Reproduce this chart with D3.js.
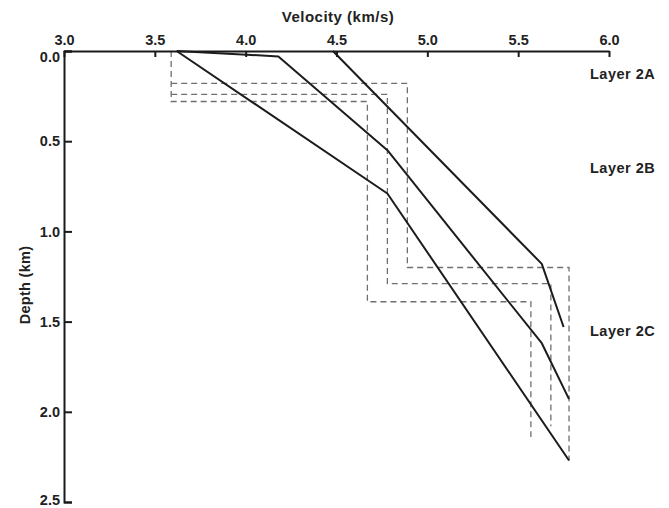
<!DOCTYPE html>
<html>
<head>
<meta charset="utf-8">
<script src="https://cdn.jsdelivr.net/npm/d3@7"></script>
<style>
  html, body { margin: 0; padding: 0; background: #ffffff; }
  svg { display: block; font-family: "Liberation Sans", Arial, sans-serif; }
  .axis text { font-size: 14.5px; font-weight: bold; fill: #222; }
  .axis path, .axis line { stroke: #1a1a1a; stroke-width: 2; }
</style>
</head>
<body>
<svg id="chart" width="669" height="508"></svg>
<script>
// Axis tick values
const velocityTicks = [3.0, 3.5, 4.0, 4.5, 5.0, 5.5, 6.0];
const depthTicks = [0.0, 0.5, 1.0, 1.5, 2.0, 2.5];

// Gradient velocity-depth profiles (solid lines)
const gradA_vel = [3.62, 4.78, 5.78];
const gradA_depth = [0.00, 0.79, 2.27];
const gradB_vel = [3.62, 4.18, 4.78, 5.63, 5.78];
const gradB_depth = [0.00, 0.03, 0.55, 1.62, 1.93];
const gradC_vel = [4.48, 5.63, 5.75];
const gradC_depth = [0.00, 1.18, 1.53];

// Layered (step) velocity models (dashed lines)
const stepA_vel = [3.59, 4.89, 4.89, 5.78, 5.78];
const stepA_depth = [0.18, 0.18, 1.20, 1.20, 2.27];
const stepB_vel = [3.59, 4.78, 4.78, 5.68, 5.68];
const stepB_depth = [0.24, 0.24, 1.29, 1.29, 2.08];
const stepC_vel = [3.59, 3.59, 4.67, 4.67, 5.57, 5.57];
const stepC_depth = [0.00, 0.28, 0.28, 1.39, 1.39, 2.14];

// Layer names and the depths where they are labelled
const layerNames = ["Layer 2A", "Layer 2B", "Layer 2C"];
const layerLabelDepths = [0.125, 0.65, 1.55];

const svg = d3.select("#chart");

const x = d3.scaleLinear().domain([3.0, 6.0]).range([64, 609]);
const y = d3.scaleLinear().domain([0.0, 2.5]).range([51, 502]);

const zip = (vs, ds) => vs.map((v, i) => [v, ds[i]]);
const line = d3.line().x(d => x(d[0])).y(d => y(d[1]));

// Dashed step models
[[stepA_vel, stepA_depth], [stepB_vel, stepB_depth], [stepC_vel, stepC_depth]].forEach(([vs, ds]) => {
  svg.append("path")
    .attr("d", line(zip(vs, ds)))
    .attr("fill", "none")
    .attr("stroke", "#6f6f6f")
    .attr("stroke-width", 1.3)
    .attr("stroke-dasharray", "6,4");
});

// Solid gradient profiles
[[gradA_vel, gradA_depth], [gradB_vel, gradB_depth], [gradC_vel, gradC_depth]].forEach(([vs, ds]) => {
  svg.append("path")
    .attr("d", line(zip(vs, ds)))
    .attr("fill", "none")
    .attr("stroke", "#1c1c1c")
    .attr("stroke-width", 2)
    .attr("stroke-linejoin", "round");
});

// Top velocity axis, ticks pointing into the plot
svg.append("g")
  .attr("class", "axis")
  .attr("transform", `translate(0,${y(0)})`)
  .call(d3.axisTop(x).tickValues(velocityTicks).tickFormat(d3.format(".1f"))
    .tickSizeInner(-6).tickSizeOuter(0).tickPadding(6));

// Left depth axis, ticks pointing into the plot
const yAxis = svg.append("g")
  .attr("class", "axis")
  .attr("transform", `translate(${x(3.0)},0)`)
  .call(d3.axisLeft(y).tickValues(depthTicks).tickFormat(d3.format(".1f"))
    .tickSizeInner(-8).tickSizeOuter(-8).tickPadding(4));
yAxis.selectAll(".tick text").filter(d => d === 0).attr("dy", "0.75em");
yAxis.selectAll(".tick text").filter(d => d === 2.5).attr("dy", "0.2em");

// Axis titles
svg.append("text")
  .attr("x", 338).attr("y", 22)
  .attr("text-anchor", "middle")
  .attr("font-size", 15).attr("font-weight", "bold").attr("fill", "#222")
  .attr("letter-spacing", 0.5)
  .text("Velocity (km/s)");

svg.append("text")
  .attr("transform", `translate(30,${285}) rotate(-90)`)
  .attr("text-anchor", "middle")
  .attr("font-size", 14.5).attr("font-weight", "bold").attr("fill", "#222")
  .attr("letter-spacing", 0.3)
  .text("Depth (km)");

// Layer labels
layerNames.forEach((name, i) => {
  svg.append("text")
    .attr("x", 590)
    .attr("y", y(layerLabelDepths[i]))
    .attr("dy", "0.35em")
    .attr("font-size", 14.5).attr("font-weight", "bold").attr("fill", "#222")
    .attr("letter-spacing", 0.5)
    .text(name);
});
</script>
</body>
</html>
